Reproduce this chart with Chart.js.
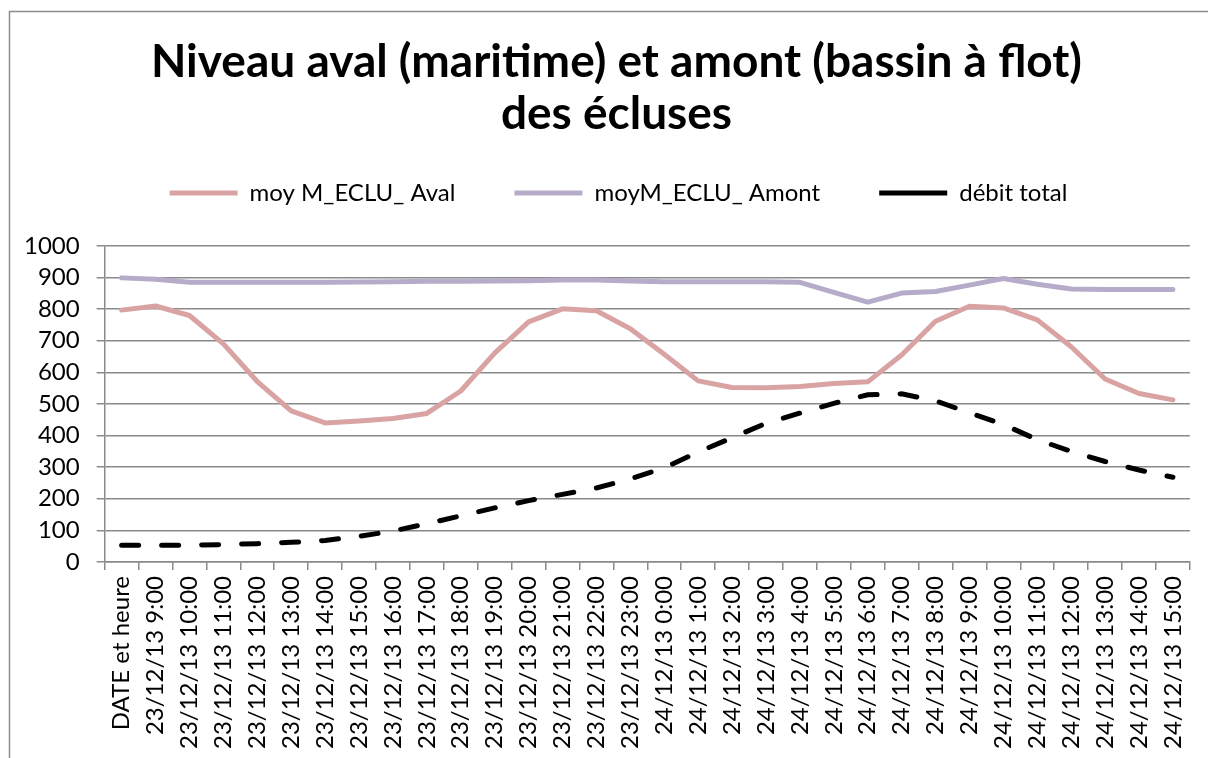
<!DOCTYPE html>
<html lang="fr">
<head>
    <meta charset="UTF-8">
    <title>Niveau aval et amont des écluses</title>
    <style>
        body {
            margin: 0;
            background-color: #ffffff;
        }
        #chart {
            display: block;
        }
    </style>
</head>
<body>
    <canvas id="chart" width="1208" height="758"></canvas>

    <script src="https://cdn.jsdelivr.net/npm/chart.js"></script>
    <script>
        // Categories (x axis)
        const labels = [
            'DATE et heure',
            '23/12/13 9:00', '23/12/13 10:00', '23/12/13 11:00', '23/12/13 12:00', '23/12/13 13:00',
            '23/12/13 14:00', '23/12/13 15:00', '23/12/13 16:00', '23/12/13 17:00', '23/12/13 18:00',
            '23/12/13 19:00', '23/12/13 20:00', '23/12/13 21:00', '23/12/13 22:00', '23/12/13 23:00',
            '24/12/13 0:00', '24/12/13 1:00', '24/12/13 2:00', '24/12/13 3:00', '24/12/13 4:00',
            '24/12/13 5:00', '24/12/13 6:00', '24/12/13 7:00', '24/12/13 8:00', '24/12/13 9:00',
            '24/12/13 10:00', '24/12/13 11:00', '24/12/13 12:00', '24/12/13 13:00', '24/12/13 14:00',
            '24/12/13 15:00'
        ];

        // Series values
        const aval = [797, 810, 780, 690, 571, 478, 440, 446, 454, 470, 541, 661, 760, 801, 795, 738,
                      657, 573, 552, 551, 555, 565, 570, 655, 762, 809, 804, 766, 681, 579, 533, 513];
        const amont = [899, 895, 885, 885, 885, 885, 885, 886, 887, 888, 888, 889, 890, 892, 892, 889,
                       887, 887, 887, 887, 885, 853, 822, 851, 856, 876, 897, 879, 864, 862, 862, 862];
        const debit = [53, 53, 53, 55, 58, 62, 68, 81, 98, 121, 146, 171, 194, 214, 234, 263,
                       298, 348, 393, 439, 471, 502, 529, 532, 510, 472, 435, 387, 350, 318, 291, 268];

        // Y axis range
        const yMin = 0;
        const yMax = 1000;
        const yStep = 100;

        const FONT = 'Lato, "Open Sans", sans-serif';
        const GRID = '#8a8a8a';

        // outer frame like the spreadsheet chart border
        const framePlugin = {
            id: 'frame',
            afterInit(chart) {
                // leave more room between the legend and the plot
                const legend = chart.legend;
                const fit = legend.fit;
                legend.fit = function () {
                    fit.call(this);
                    this.height += 31;
                };
            },
            afterLayout(chart) {
                // title and legend are centred on the whole frame, not the plot
                chart.titleBlock.left += 36;
                chart.legend.left += 40;
            },
            beforeDraw(chart) {
                const ctx = chart.ctx;
                ctx.save();
                ctx.strokeStyle = '#8c8c8c';
                ctx.lineWidth = 1.5;
                ctx.strokeRect(9.5, 11.5, chart.width + 20, chart.height + 20);
                ctx.restore();
            }
        };

        const ctx = document.getElementById('chart').getContext('2d');
        new Chart(ctx, {
            type: 'line',
            data: {
                labels: labels,
                datasets: [
                    {
                        label: 'moy M_ECLU_ Aval',
                        data: aval,
                        borderColor: '#d8a3a2',
                        backgroundColor: '#d8a3a2',
                        borderWidth: 5,
                        borderCapStyle: 'round',
                        borderJoinStyle: 'round',
                        pointRadius: 0,
                        tension: 0
                    },
                    {
                        label: 'moyM_ECLU_ Amont',
                        data: amont,
                        borderColor: '#b7abca',
                        backgroundColor: '#b7abca',
                        borderWidth: 5,
                        borderCapStyle: 'round',
                        borderJoinStyle: 'round',
                        pointRadius: 0,
                        tension: 0
                    },
                    {
                        label: 'débit total',
                        data: debit,
                        borderColor: '#000000',
                        backgroundColor: '#000000',
                        borderWidth: 5,
                        borderDash: [17, 23],
                        borderCapStyle: 'round',
                        pointRadius: 0,
                        tension: 0
                    }
                ]
            },
            options: {
                responsive: false,
                animation: false,
                layout: { padding: { top: 12, left: 7, right: 18, bottom: 3 } },
                plugins: {
                    title: {
                        display: true,
                        text: ['Niveau aval (maritime) et amont (bassin à flot)', 'des écluses'],
                        color: '#000000',
                        font: { family: FONT, size: 46, weight: 'bold', lineHeight: 1.13 },
                        padding: { top: 24, bottom: -18 }
                    },
                    legend: {
                        display: true,
                        labels: {
                            color: '#000000',
                            font: { family: FONT, size: 24 },
                            usePointStyle: true,
                            pointStyle: 'line',
                            pointStyleWidth: 68,
                            padding: 59
                        }
                    },
                    tooltip: { enabled: false }
                },
                scales: {
                    x: {
                        offset: true,
                        grid: {
                            offset: true,
                            drawOnChartArea: false,
                            drawTicks: true,
                            tickLength: 8,
                            color: GRID,
                            lineWidth: 1.5
                        },
                        border: { color: GRID, width: 1.5 },
                        ticks: {
                            color: '#000000',
                            font: { family: FONT, size: 24 },
                            autoSkip: false,
                            minRotation: 90,
                            maxRotation: 90,
                            padding: 6
                        }
                    },
                    y: {
                        min: yMin,
                        max: yMax,
                        grid: {
                            color: GRID,
                            lineWidth: 1.5,
                            drawTicks: true,
                            tickLength: 8
                        },
                        border: { color: GRID, width: 1.5 },
                        ticks: {
                            stepSize: yStep,
                            autoSkip: false,
                            color: '#000000',
                            font: { family: FONT, size: 24 },
                            padding: 17,
                            callback: (value) => String(value)
                        }
                    }
                }
            },
            plugins: [framePlugin]
        });
    </script>
</body>
</html>
